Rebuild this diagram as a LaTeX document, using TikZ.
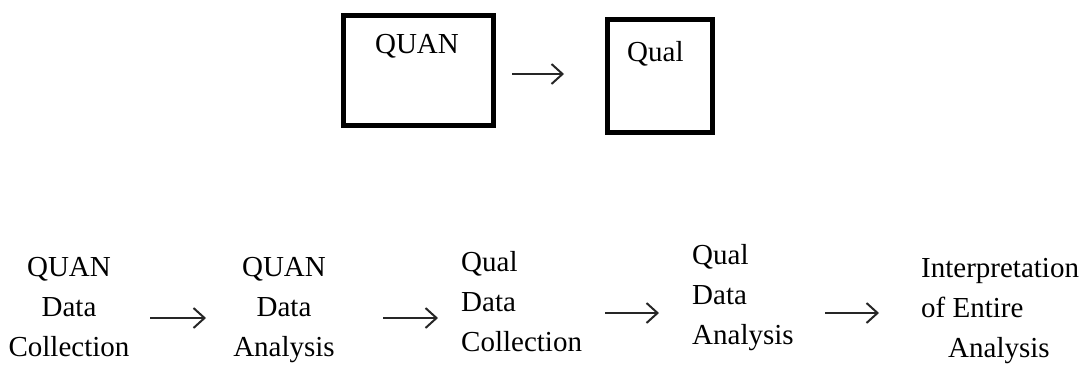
\documentclass[tikz,border=0pt]{standalone}
\usepackage{fontspec}
\setmainfont{Liberation Serif}
\usetikzlibrary{arrows.meta}
\begin{document}
\begin{tikzpicture}[x=1pt,y=-1pt,
  txt/.style={inner sep=0pt,font=\fontsize{29}{40}\selectfont},
  frame/.style={draw,line width=4.5pt},
  arr/.style={line width=2.2pt,draw=black!85,-{Straight Barb[length=11pt,width=20pt,line width=2pt]}}]
\useasboundingbox (0,0) rectangle (1087,365);
% top row
\node[frame,minimum width=150pt,minimum height=110pt,anchor=north west] (b1) at (341,13) {};
\node[frame,minimum width=105pt,minimum height=113pt,anchor=north west] (b2) at (605,17) {};
\node[txt,anchor=north] (t1) at (417,34) {QUAN};
\node[txt,anchor=north west] (t2) at (627,41) {Qual};
\coordinate (ta) at (512,74);
\coordinate (tb) at (564,74);
\draw[arr] (ta) -- (tb);
% bottom row
\node[txt,align=center,anchor=north] (c1) at (69,257) {QUAN\\Data\\Collection};
\node[txt,align=center,anchor=north] (c2) at (284,257) {QUAN\\Data\\Analysis};
\node[txt,align=left,anchor=north west] (c3) at (461,251) {Qual\\Data\\Collection};
\node[txt,align=left,anchor=north west] (c4) at (692,244) {Qual\\Data\\Analysis};
\node[txt,align=left,anchor=north west] (c5) at (921,258) {Interpretation\\of Entire\\\hspace*{27pt}Analysis};
\coordinate (a1s) at (150,318); \coordinate (a1e) at (206,318);
\coordinate (a2s) at (383,318); \coordinate (a2e) at (438,318);
\coordinate (a3s) at (605,313); \coordinate (a3e) at (659,313);
\coordinate (a4s) at (825,313); \coordinate (a4e) at (879,313);
\draw[arr] (a1s) -- (a1e);
\draw[arr] (a2s) -- (a2e);
\draw[arr] (a3s) -- (a3e);
\draw[arr] (a4s) -- (a4e);
\end{tikzpicture}
\end{document}
